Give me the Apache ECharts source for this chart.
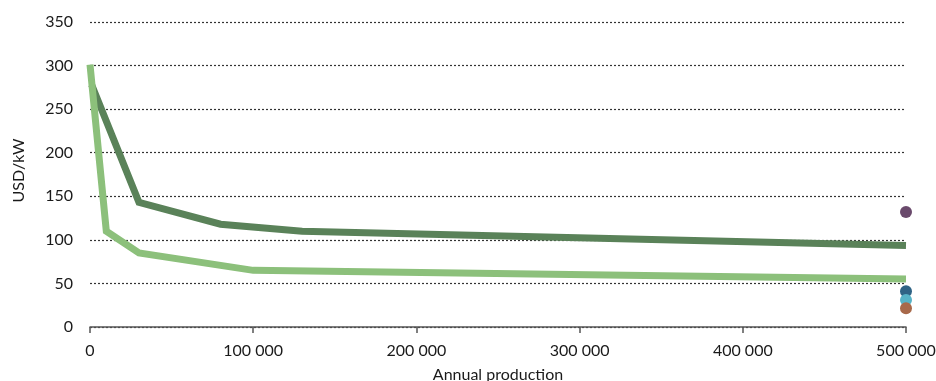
<!DOCTYPE html>
<html>
<head>
<meta charset="utf-8">
<script src="https://cdn.jsdelivr.net/npm/echarts@6/dist/echarts.min.js"></script>
<style>html,body{margin:0;padding:0;background:#fff}#c{width:936px;height:381px}</style>
</head>
<body>
<div id="c"></div>
<script>
// Data
var xTicks = [0, 100000, 200000, 300000, 400000, 500000];
var yTicks = [0, 50, 100, 150, 200, 250, 300, 350];
var darkX = [1000, 30000, 80000, 130000, 500000];
var darkY = [278, 143, 118, 110, 93.5];
var lightX = [0, 10000, 30000, 100000, 500000];
var lightY = [301, 110, 85, 65, 55];
var dotX = 500000;
var dotPurple = 132;
var dotBlue = 41;
var dotTeal = 31;
var dotBrown = 21.5;

function pairs(xs, ys) { return xs.map(function (x, i) { return [x, ys[i]]; }); }
function fmt(v) { return String(v).replace(/\B(?=(\d{3})+(?!\d))/g, ' '); }

var font = 'Lato, "Open Sans", sans-serif';
var txt = '#1a1a1a';
var chart = echarts.init(document.getElementById('c'), null, {renderer: 'canvas'});
function dot(val, color) {
  return {
    type: 'scatter', data: [[dotX, val]], symbolSize: 12, clip: false,
    itemStyle: {color: color, opacity: 1}, z: 5
  };
}
chart.setOption({
  animation: false,
  grid: {left: 90, right: 30, top: 22, bottom: 54, containLabel: false, outerBoundsMode: 'none'},
  xAxis: {
    type: 'value', min: 0, max: 500000, interval: 100000,
    name: 'Annual production', nameLocation: 'middle', nameGap: 40,
    nameTextStyle: {color: txt, fontSize: 16, fontFamily: font},
    axisLine: {show: true, lineStyle: {color: '#555', width: 1.5}},
    axisTick: {show: true, length: 6, lineStyle: {color: '#555', width: 1.5}},
    axisLabel: {color: txt, fontSize: 16, fontFamily: font, margin: 16, formatter: fmt},
    splitLine: {show: false}
  },
  yAxis: {
    type: 'value', min: 0, max: 350, interval: 50,
    name: 'USD/kW', nameLocation: 'middle', nameGap: 63, nameRotate: 90,
    nameTextStyle: {color: txt, fontSize: 16, fontFamily: font, padding: [0, 0, 0, 8]},
    axisLine: {show: false}, axisTick: {show: false},
    axisLabel: {color: txt, fontSize: 16, fontFamily: font, margin: 17},
    splitLine: {show: true, lineStyle: {color: '#333', width: 1.2, type: [2, 2]}}
  },
  series: [
    {type: 'line', data: pairs(darkX, darkY), symbol: 'none', z: 3,
     lineStyle: {color: '#5a8259', width: 7, cap: 'butt', join: 'miter'}},
    {type: 'line', data: pairs(lightX, lightY), symbol: 'none', z: 4,
     lineStyle: {color: '#8cc07b', width: 7, cap: 'butt', join: 'miter'}},
    dot(dotPurple, '#6a4a6c'),
    dot(dotBlue, '#2f6385'),
    dot(dotTeal, '#57b3c7'),
    dot(dotBrown, '#a8694a')
  ]
});
</script>
</body>
</html>
